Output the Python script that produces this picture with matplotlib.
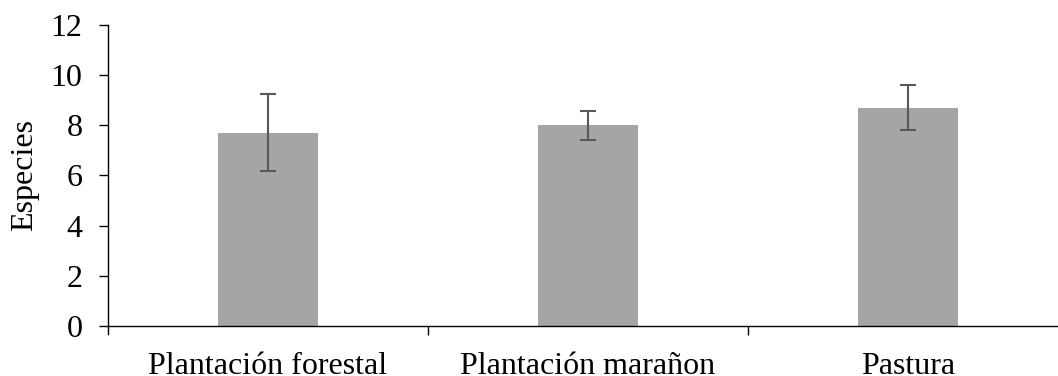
import matplotlib.pyplot as plt
import numpy as np

plt.rcParams['font.family'] = ['Liberation Serif', 'DejaVu Serif']

categories = ['Plantación forestal', 'Plantación marañon', 'Pastura']
species_mean = [7.7, 8.0, 8.7]
species_err = [1.53, 0.58, 0.89]
y_ticks = [0, 2, 4, 6, 8, 10, 12]


def plot_species(categories, means, errs):
    fig = plt.figure(figsize=(10.58, 3.76), dpi=100)
    ax = fig.add_axes([108 / 1058, 50 / 376, 950 / 1058, 301.3 / 376])

    x = np.arange(len(categories))
    ax.bar(x, means, width=100 / 320, color='#a5a5a5', zorder=2)
    ax.errorbar(x, means, yerr=errs, fmt='none', ecolor='#595959',
                elinewidth=1.5, capsize=6, capthick=1.5, zorder=3)

    ax.set_xlim(-0.5, 2.5 - 10 / 320)
    ax.set_ylim(0, 12)
    ax.set_yticks(y_ticks)
    ax.tick_params(axis='y', labelsize=23, length=6.5, width=1, pad=12)

    # category names sit between the boundary ticks
    ax.set_xticks(x)
    ax.set_xticklabels(categories)
    ax.set_xticks([0.5, 1.5], minor=True)
    ax.tick_params(axis='x', which='major', length=0, labelsize=23, pad=18.5)
    ax.tick_params(axis='x', which='minor', length=6.5, width=1)
    ax.plot([-0.5, -0.5], [0, -0.3], color='black', lw=1, clip_on=False)

    ax.set_ylabel('Especies', fontsize=23, labelpad=8.5)
    for side in ['top', 'right']:
        ax.spines[side].set_visible(False)
    for side in ['left', 'bottom']:
        ax.spines[side].set_linewidth(1)

    fig.savefig('out.png', dpi=100)


plot_species(categories, species_mean, species_err)
